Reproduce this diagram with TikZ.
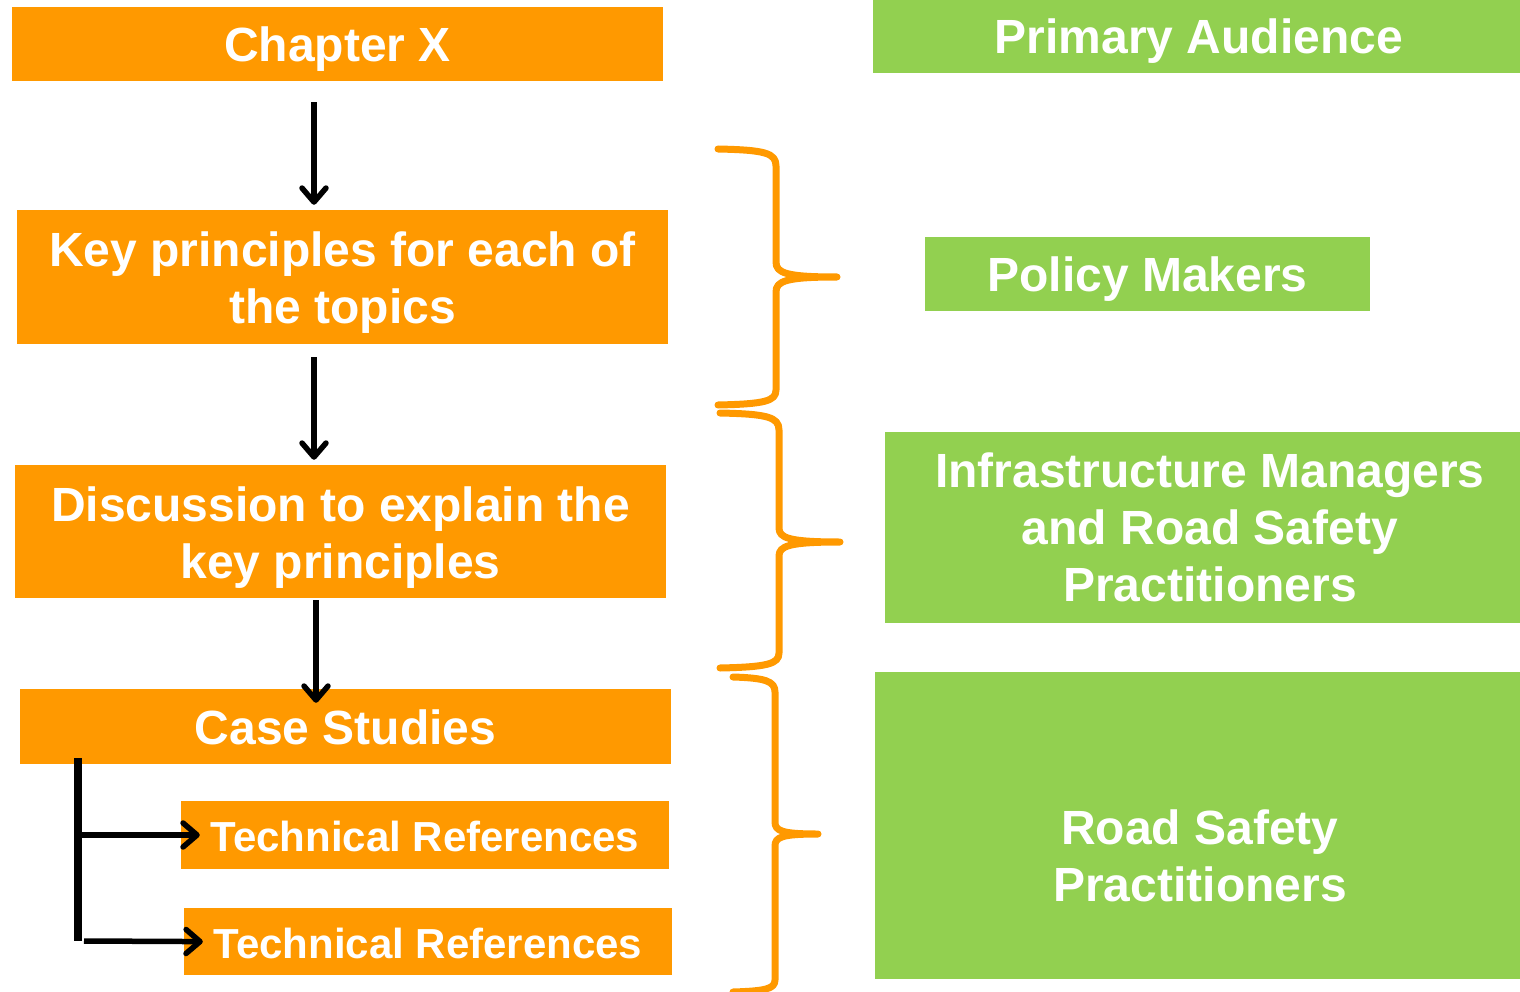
\documentclass[tikz,border=0pt]{standalone}
\usepackage{fontspec}
\setmainfont{Liberation Sans}
\usetikzlibrary{arrows.meta,calc}
\definecolor{boxorange}{HTML}{FF9900}
\definecolor{boxgreen}{HTML}{92D050}
\begin{document}
\begin{tikzpicture}[x=1pt,y=-1pt,
  obox/.style={fill=boxorange,draw=none,inner sep=0pt},
  gbox/.style={fill=boxgreen,draw=none,inner sep=0pt},
  txt/.style={text=white,align=center,inner sep=0pt,
    font=\fontsize{48}{57}\selectfont\bfseries},
  ttxt/.style={txt,font=\fontsize{42}{50}\selectfont\bfseries},
  arr/.style={line width=5.5pt,-{Straight Barb[length=14pt,width=24pt,round]}},
  brace/.style={draw=boxorange,line width=7pt,line cap=round,line join=round}]
\useasboundingbox (0,0) rectangle (1520,992);

% left column: chapter structure
\node[obox,minimum width=651pt,minimum height=74pt,
  label={[txt,yshift=-5pt]center:Chapter X}] (chap) at (337.5,44) {};
\node[obox,minimum width=651pt,minimum height=134pt,
  label={[txt,yshift=-6pt]center:{Key principles for each of\\the topics}}] (key) at (342.5,277) {};
\node[obox,minimum width=651pt,minimum height=133pt,
  label={[txt,yshift=-6pt]center:{Discussion to explain the\\key principles}}] (disc) at (340.5,531.5) {};
\node[obox,minimum width=651pt,minimum height=75pt,
  label={[txt,yshift=-1pt]center:Case Studies}] (case) at (345.5,726.5) {};
\node[obox,minimum width=488pt,minimum height=68pt,
  label={[ttxt,yshift=-1pt]center:Technical References}] (tr1) at (425,835) {};
\node[obox,minimum width=488pt,minimum height=67pt,
  label={[ttxt,yshift=-1.5pt]center:Technical References}] (tr2) at (428,941.5) {};

\draw[arr,shorten <=21pt,shorten >=5pt] (chap.south -| 314,0) -- (key.north -| 314,0);
\draw[arr,shorten <=13pt,shorten >=5pt] (key.south -| 314,0) -- (disc.north -| 314,0);
\draw[arr,shorten <=2pt,shorten >=-14pt] (disc.south -| 316,0) -- (case.north -| 316,0);

% branch from the case studies to the references
\coordinate (btop) at (78,758);
\coordinate (bbot) at (78,941);
\draw[line width=7.5pt] (btop) -- (bbot);
\draw[arr,shorten >=-19pt] (btop |- tr1.west) -- (tr1.west);
\draw[arr,shorten >=-19pt] ([xshift=6pt]bbot) -- (tr2.west);

% right column: audiences
\node[gbox,minimum width=652pt,minimum height=73pt,
  label={[txt,yshift=-5pt]center:Primary Audience}] (prim) at (1199,36.5) {};
\node[gbox,minimum width=445pt,minimum height=74pt,
  label={[txt,yshift=-5pt]center:Policy Makers}] (pol) at (1147.5,274) {};
\node[gbox,minimum width=650pt,minimum height=191pt,
  label={[txt]center:{Infrastructure Managers\\and Road Safety\\Practitioners}}] (infra) at (1210,527.5) {};
\node[gbox,minimum width=650pt,minimum height=307pt,
  label={[txt,yshift=-30pt]center:{Road Safety\\Practitioners}}] (rs) at (1200,825.5) {};

% curly braces grouping the chapter parts
\draw[brace] (718,149) .. controls (765,150) and (776,153) .. (776,166) -- (776,262)
  .. controls (776,273) and (786,277) .. (837,277)
  .. controls (786,277) and (776,281) .. (776,292) -- (776,390)
  .. controls (776,401) and (765,404) .. (718,405);
\draw[brace] (720,413) .. controls (767,414) and (779,417) .. (779,430) -- (779,528)
  .. controls (779,538) and (789,542) .. (840,542)
  .. controls (789,542) and (779,546) .. (779,556) -- (779,653)
  .. controls (779,664) and (767,667) .. (720,668);
\draw[brace] (733,677) .. controls (765,678) and (775,681) .. (775,692) -- (775,822)
  .. controls (775,831) and (782,834) .. (818,834)
  .. controls (782,834) and (775,837) .. (775,846) -- (775,980)
  .. controls (775,989) and (765,991) .. (733,992);
\end{tikzpicture}
\end{document}
